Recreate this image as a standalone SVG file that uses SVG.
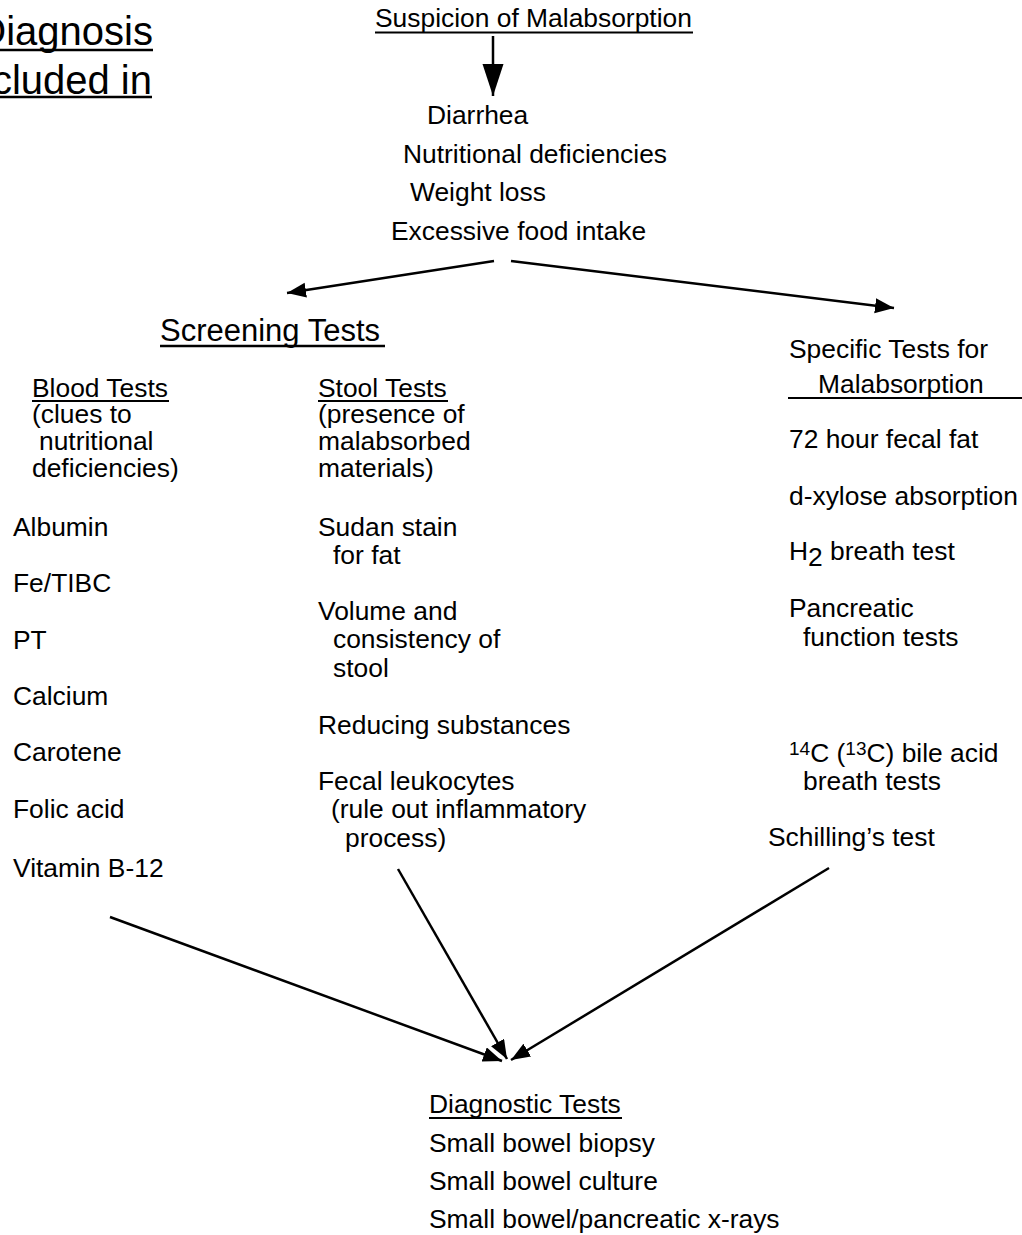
<svg xmlns="http://www.w3.org/2000/svg" width="1022" height="1235" viewBox="0 0 1022 1235">
<defs>
<style>
text{font-family:"Liberation Sans",Arial,Helvetica,sans-serif;font-size:26.4px;fill:#000}
.big{font-size:31px}
.huge{font-size:40px}
.ul{stroke:#000;stroke-width:2}
.conn{stroke:#000;stroke-width:2.5;fill:none}
.sup{font-size:19px}
</style>
<marker id="ah" markerUnits="userSpaceOnUse" markerWidth="20" markerHeight="16" refX="19" refY="7.5" orient="auto" viewBox="0 0 20 16">
<path d="M0,0 L19,7.5 L0,15 z" fill="#000"/>
</marker>
<marker id="ahBig" markerUnits="userSpaceOnUse" markerWidth="33" markerHeight="22" refX="32" refY="10.5" orient="auto" viewBox="0 0 33 22">
<path d="M0,0 L32,10.5 L0,21 z" fill="#000"/>
</marker>
</defs>
<rect width="1022" height="1235" fill="#fff"/>

<g id="title-clipped">
<text class="huge" x="153" y="45" text-anchor="end">Diagnosis</text>
<line class="ul" x1="0" y1="50" x2="153" y2="50" style="stroke-width:2.5"/>
<text class="huge" x="152" y="94" text-anchor="end">cluded in</text>
<line class="ul" x1="0" y1="97" x2="152" y2="97" style="stroke-width:2.5"/>
</g>

<g id="suspicion">
<text x="375" y="27">Suspicion of Malabsorption</text>
<line class="ul" x1="375" y1="32.5" x2="693" y2="32.5"/>
</g>

<g id="symptoms">
<text x="427" y="124">Diarrhea</text>
<text x="403" y="163">Nutritional deficiencies</text>
<text x="410" y="201">Weight loss</text>
<text x="391" y="240">Excessive food intake</text>
</g>

<g id="screening">
<text class="big" x="160" y="341">Screening Tests</text>
<line class="ul" x1="160" y1="346" x2="385" y2="346" style="stroke-width:2.5"/>
</g>

<g id="blood-tests">
<text x="32" y="397">Blood Tests</text>
<line class="ul" x1="32" y1="401" x2="169" y2="401"/>
<text x="32" y="423">(clues to</text>
<text x="39" y="450">nutritional</text>
<text x="32" y="477">deficiencies)</text>
<text x="13" y="536">Albumin</text>
<text x="13" y="592">Fe/TIBC</text>
<text x="13" y="649">PT</text>
<text x="13" y="705">Calcium</text>
<text x="13" y="761">Carotene</text>
<text x="13" y="818">Folic acid</text>
<text x="13" y="877">Vitamin B-12</text>
</g>

<g id="stool-tests">
<text x="318" y="397">Stool Tests</text>
<line class="ul" x1="318" y1="401" x2="448" y2="401"/>
<text x="318" y="423">(presence of</text>
<text x="318" y="450">malabsorbed</text>
<text x="318" y="477">materials)</text>
<text x="318" y="536">Sudan stain</text>
<text x="333" y="564">for fat</text>
<text x="318" y="620">Volume and</text>
<text x="333" y="648">consistency of</text>
<text x="333" y="677">stool</text>
<text x="318" y="734">Reducing substances</text>
<text x="318" y="790">Fecal leukocytes</text>
<text x="331" y="818">(rule out inflammatory</text>
<text x="345" y="847">process)</text>
</g>

<g id="specific-tests">
<text x="789" y="358">Specific Tests for</text>
<text x="818" y="393">Malabsorption</text>
<line class="ul" x1="788" y1="398" x2="1022" y2="398"/>
<text x="789" y="448">72 hour fecal fat</text>
<text x="789" y="505">d-xylose absorption</text>
<text x="789" y="560">H<tspan dy="6">2</tspan><tspan dy="-6"> breath test</tspan></text>
<text x="789" y="617">Pancreatic</text>
<text x="803" y="646">function tests</text>
<text x="789" y="762"><tspan class="sup" dy="-7">14</tspan><tspan dy="7">C (</tspan><tspan class="sup" dy="-7">13</tspan><tspan dy="7">C) bile acid</tspan></text>
<text x="803" y="790">breath tests</text>
<text x="768" y="846">Schilling’s test</text>
</g>

<g id="diagnostic-tests">
<text x="429" y="1113">Diagnostic Tests</text>
<line class="ul" x1="429" y1="1118" x2="622" y2="1118"/>
<text x="429" y="1152">Small bowel biopsy</text>
<text x="429" y="1190">Small bowel culture</text>
<text x="429" y="1228">Small bowel/pancreatic x-rays</text>
</g>

<g id="connectors">
<line class="conn" x1="493" y1="36" x2="493" y2="96" marker-end="url(#ahBig)"/>
<line class="conn" x1="494" y1="261" x2="287" y2="293" marker-end="url(#ah)"/>
<line class="conn" x1="511" y1="261" x2="894" y2="308" marker-end="url(#ah)"/>
<line class="conn" x1="110" y1="917" x2="502" y2="1061" marker-end="url(#ah)"/>
<line class="conn" x1="398" y1="869" x2="507" y2="1059" marker-end="url(#ah)"/>
<line class="conn" x1="829" y1="868" x2="511" y2="1060" marker-end="url(#ah)"/>
</g>
</svg>
